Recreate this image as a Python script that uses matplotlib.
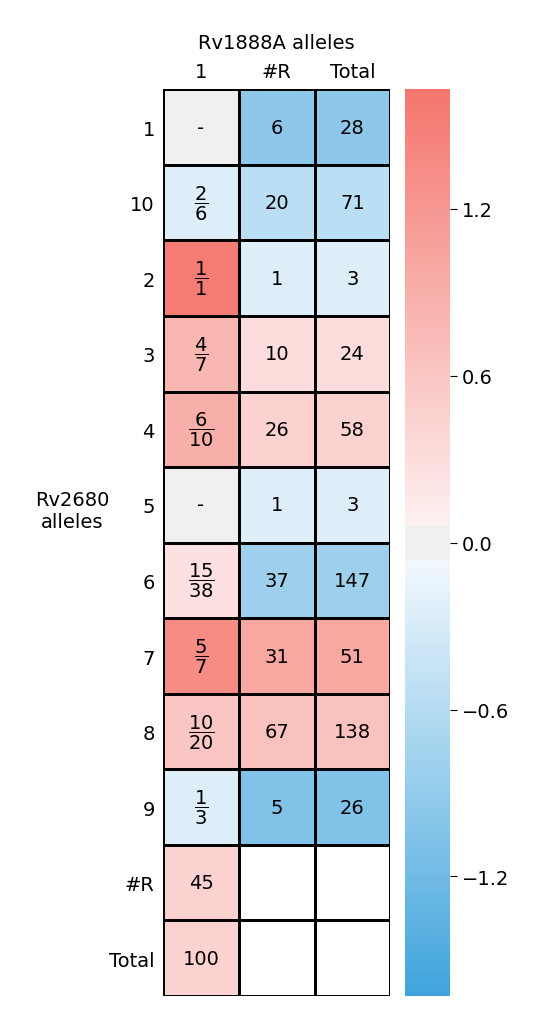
import numpy as np
import matplotlib
matplotlib.use("Agg")
import matplotlib.pyplot as plt
from matplotlib.colors import LinearSegmentedColormap

# rows / columns
row_labels = ["1", "10", "2", "3", "4", "5", "6", "7", "8", "9", "#R", "Total"]
col_labels = ["1", "#R", "Total"]

# colour values
col1_vals = [0.0, -0.25, 1.55, 0.8, 0.9, 0.0, 0.25, 1.35, 0.6, -0.25, 0.45, 0.45]
colR_vals = [-0.95, -0.55, -0.25, 0.3, 0.45, -0.25, -0.8, 1.0, 0.65, -1.05, np.nan, np.nan]
colT_vals = [-0.95, -0.55, -0.25, 0.3, 0.45, -0.25, -0.8, 1.0, 0.65, -1.05, np.nan, np.nan]

# cell texts
col1_txt = ["-", r"$\dfrac{2}{6}$", r"$\dfrac{1}{1}$", r"$\dfrac{4}{7}$", r"$\dfrac{6}{10}$", "-",
            r"$\dfrac{15}{38}$", r"$\dfrac{5}{7}$", r"$\dfrac{10}{20}$", r"$\dfrac{1}{3}$", "45", "100"]
colR_txt = ["6", "20", "1", "10", "26", "1", "37", "31", "67", "5", "", ""]
colT_txt = ["28", "71", "3", "24", "58", "3", "147", "51", "138", "26", "", ""]

vmax = 1.63
g = 0.06 / vmax / 2
cmap = LinearSegmentedColormap.from_list("bwr_grey", [
    (0.0, "#3fa4dc"),
    (0.5 - g - 0.001, "#f2f8fd"),
    (0.5 - g, "#f0f0f0"),
    (0.5 + g, "#f0f0f0"),
    (0.5 + g + 0.001, "#fdf0f0"),
    (1.0, "#f4766d"),
], N=1024)
cmap.set_bad("white")

data = np.ma.masked_invalid(np.array([col1_vals, colR_vals, colT_vals]).T)
texts = np.array([col1_txt, colR_txt, colT_txt]).T

fig = plt.figure(figsize=(5.57, 10.2), dpi=100)
ax = fig.add_axes([0.293, 0.0225, 0.4075, 0.889])
cax = fig.add_axes([0.727, 0.0225, 0.081, 0.889])

mesh = ax.pcolormesh(data, cmap=cmap, vmin=-vmax, vmax=vmax, edgecolors="black", linewidth=0.8)
ax.set_xlim(0, 3)
ax.set_ylim(len(row_labels), 0)
for i in range(len(row_labels)):
    for j in range(3):
        ax.text(j + 0.5, i + 0.5, texts[i, j], ha="center", va="center", fontsize=14)

ax.set_yticks(np.arange(len(row_labels)) + 0.5)
ax.set_yticklabels(row_labels, fontsize=14)
ax.set_xticks(np.arange(3) + 0.5)
ax.set_xticklabels(col_labels, fontsize=14)
ax.xaxis.tick_top()
ax.tick_params(length=0, pad=6)
for s in ax.spines.values():
    s.set_visible(False)
ax.set_title("Rv1888A alleles", fontsize=14, pad=30)
ax.set_ylabel("Rv2680\nalleles", fontsize=14, rotation=0, va="center")
ax.yaxis.set_label_coords(-0.4, 0.535)

cb = fig.colorbar(mesh, cax=cax, ticks=[-1.2, -0.6, 0, 0.6, 1.2])
cb.outline.set_visible(False)
cb.ax.tick_params(labelsize=14, length=5)

fig.savefig("out.png", dpi=100)
